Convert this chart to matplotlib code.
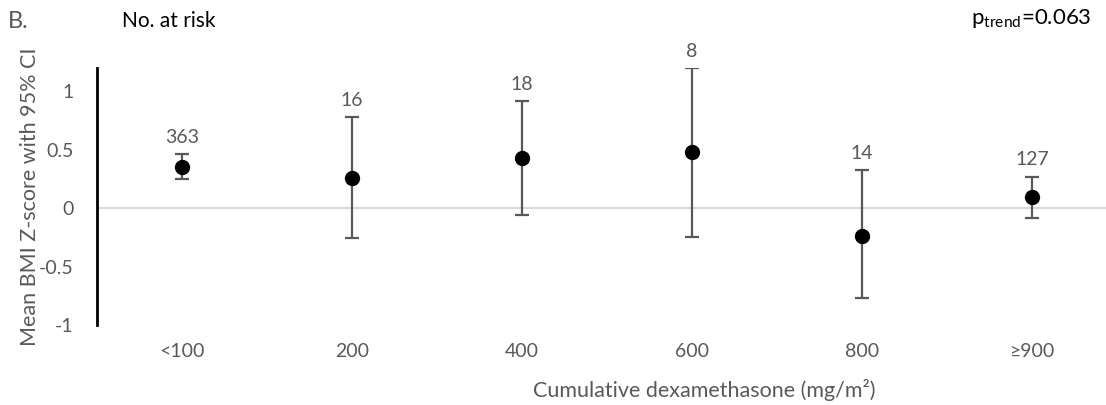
import matplotlib
matplotlib.use("Agg")
import matplotlib.pyplot as plt

plt.rcParams["font.family"] = ["Lato", "DejaVu Sans"]
plt.rcParams["mathtext.fontset"] = "custom"
plt.rcParams["mathtext.rm"] = "Lato"
plt.rcParams["mathtext.it"] = "Lato"

# 데이터
categories = ["<100", "200", "400", "600", "800", "≥900"]
means = [0.35, 0.256, 0.427, 0.478, -0.24, 0.094]
ci_low = [0.25, -0.256, -0.06, -0.248, -0.77, -0.085]
ci_high = [0.46, 0.78, 0.915, 1.196, 0.325, 0.27]
n_at_risk = [363, 16, 18, 8, 14, 127]

GRAY = "#595959"

fig = plt.figure(figsize=(11.06, 4.05), dpi=100)
ax = fig.add_axes([97 / 1106, 1 - 325 / 405, 1020 / 1106, 257 / 405])

x = list(range(len(categories)))
yerr = [[m - lo for m, lo in zip(means, ci_low)],
        [hi - m for m, hi in zip(means, ci_high)]]

ax.axhline(0, color="#D9D9D9", lw=1.6, zorder=1)
ax.errorbar(x, means, yerr=yerr, fmt="o", color="black", ms=10,
            ecolor=GRAY, elinewidth=1.6, capsize=5, capthick=1.6, zorder=3)

for xi, hi, n in zip(x, ci_high, n_at_risk):
    ax.annotate(str(n), (xi, hi), xytext=(0, 12), textcoords="offset points",
                ha="center", va="center", fontsize=14, color=GRAY)

ax.set_xlim(-0.5, len(categories) - 0.5)
ax.set_ylim(-1, 1.2)
ax.set_yticks([-1, -0.5, 0, 0.5, 1])
ax.set_yticklabels(["-1", "-0.5", "0", "0.5", "1"])
ax.set_xticks(x)
ax.set_xticklabels(categories)
ax.tick_params(axis="both", length=0, labelsize=14, labelcolor=GRAY)
ax.tick_params(axis="y", pad=17)
ax.tick_params(axis="x", pad=13)

for s in ["top", "right", "bottom"]:
    ax.spines[s].set_visible(False)
ax.spines["left"].set_linewidth(2)
ax.spines["left"].set_color("black")

ax.set_ylabel("Mean BMI Z-score with 95% CI", fontsize=15.5, color=GRAY,
              va="center")
ax.yaxis.set_label_coords(-67 / 1020, 0.5)
ax.set_xlabel("Cumulative dexamethasone (mg/m²)", fontsize=15.5, color=GRAY,
              va="center")
ax.xaxis.set_label_coords(607 / 1020, -65 / 257)

fig.text(8 / 1106, 1 - 21 / 405, "B.", fontsize=17, color=GRAY, va="center", ha="left")
fig.text(169 / 1106, 1 - 21 / 405, "No. at risk", fontsize=15, color="black",
         va="center", ha="center")
fig.text(1092 / 1106, 1 - 18 / 405, r"p$_{\mathrm{trend}}$=0.063", fontsize=16,
         color="black", va="center", ha="right")

fig.savefig("out.png", dpi=100)
